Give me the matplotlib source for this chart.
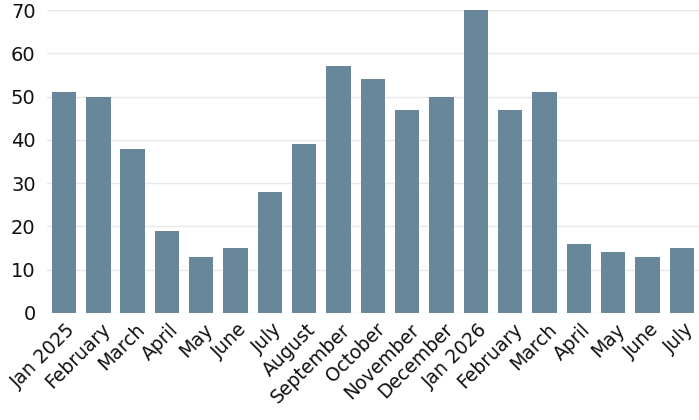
import matplotlib

matplotlib.use("Agg")
import matplotlib.pyplot as plt
from matplotlib.transforms import ScaledTranslation

MONTHS = [
    "Jan 2025", "February", "March", "April", "May", "June", "July", "August",
    "September", "October", "November", "December", "Jan 2026", "February",
    "March", "April", "May", "June", "July",
]
VALUES = [51, 50, 38, 19, 13, 15, 28, 39, 57, 54, 47, 50, 70, 47, 51, 16, 14, 13, 15]
Y_TICKS = [0, 10, 20, 30, 40, 50, 60, 70]

BAR_COLOR = "#68879b"
GRID_COLOR = "#e8e8e8"
TEXT_COLOR = "#111111"

plt.rcParams["font.family"] = ["DejaVu Sans"]

fig = plt.figure(figsize=(6.99, 4.20), dpi=100)
ax = fig.add_axes([0.067, 0.255, 0.933, 0.721])

x = list(range(len(VALUES)))
ax.bar(x, VALUES, width=0.71, color=BAR_COLOR, zorder=3)

ax.set_xlim(-0.5, len(VALUES) - 0.5)
ax.set_ylim(0, 70)
ax.set_yticks(Y_TICKS)
ax.set_yticklabels([str(t) for t in Y_TICKS], fontsize=14, color=TEXT_COLOR)
ax.set_xticks(x)
ax.set_xticklabels(MONTHS, rotation=45, ha="right", rotation_mode="anchor",
                   fontsize=13.5, color=TEXT_COLOR)
ax.tick_params(axis="both", length=0)
ax.tick_params(axis="y", pad=8)
ax.tick_params(axis="x", pad=5)
shift = ScaledTranslation(1.5 / 72, 0, fig.dpi_scale_trans)
for lbl in ax.get_xticklabels():
    lbl.set_transform(lbl.get_transform() + shift)

ax.grid(axis="y", color=GRID_COLOR, lw=1, zorder=0)
for side in ["top", "right", "left", "bottom"]:
    ax.spines[side].set_visible(False)

fig.savefig("out.png", dpi=100)
